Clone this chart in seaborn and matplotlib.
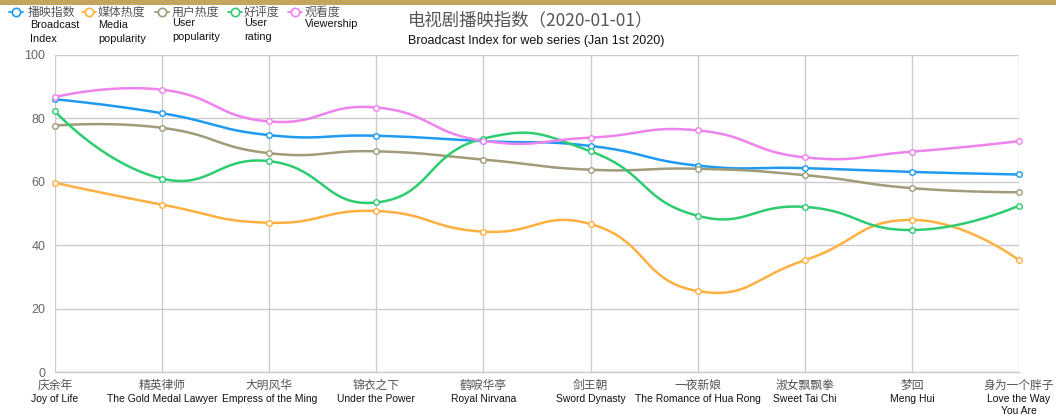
import numpy as np
import pandas as pd
import matplotlib
matplotlib.use("Agg")
import matplotlib.pyplot as plt
import seaborn as sns
from matplotlib.lines import Line2D
from matplotlib.patches import Rectangle

# ---------------- data ----------------
categories_cn = ["庆余年", "精英律师", "大明风华", "锦衣之下", "鹤唳华亭",
                 "剑王朝", "一夜新娘", "淑女飘飘拳", "梦回", "身为一个胖子"]
categories_en = ["Joy of Life", "The Gold Medal Lawyer", "Empress of the Ming",
                 "Under the Power", "Royal Nirvana", "Sword Dynasty",
                 "The Romance of Hua Rong", "Sweet Tai Chi", "Meng Hui",
                 "Love the Way\nYou Are"]

broadcast_index = [86.0, 81.6, 74.7, 74.5, 72.8, 71.3, 65.1, 64.3, 63.1, 62.3]
media_popularity = [59.7, 52.8, 47.1, 50.8, 44.3, 46.7, 25.6, 35.3, 48.0, 35.3]
user_popularity = [77.7, 77.0, 69.0, 69.6, 67.0, 63.8, 64.1, 62.1, 58.0, 56.7]
user_rating = [82.2, 61.0, 66.5, 53.5, 73.6, 69.6, 49.3, 52.1, 44.8, 52.5]
viewership = [86.7, 89.0, 79.0, 83.4, 72.9, 73.9, 76.2, 67.7, 69.5, 72.8]

series_cn = ["播映指数", "媒体热度", "用户热度", "好评度", "观看度"]
series_en = ["Broadcast\nIndex", "Media\npopularity", "User\npopularity", "User\nrating", "Viewership"]
y_ticks = [0, 20, 40, 60, 80, 100]

title_cn = "电视剧播映指数（2020-01-01）"
title_en = "Broadcast Index for web series (Jan 1st 2020)"

# ---------------- styling ----------------
colors = ["#1e9bf0", "#ffb040", "#a09b78", "#2ecc71", "#ee82ee"]
values = [broadcast_index, media_popularity, user_popularity, user_rating, viewership]

sns.set_theme(style="white")
plt.rcParams['font.family'] = ['Liberation Sans', 'Noto Sans CJK SC', 'DejaVu Sans']
CJK = ['Noto Sans CJK SC', 'DejaVu Sans']

W, H = 1056, 416
fig = plt.figure(figsize=(W / 100, H / 100), dpi=100)
left_px, right_px, top_px, bottom_px = 55, 1019, 54.8, 372.3
ax = fig.add_axes([left_px / W, 1 - bottom_px / H,
                   (right_px - left_px) / W, (bottom_px - top_px) / H])

n = len(categories_cn)
xs = np.arange(n)
ax.set_xlim(0, n - 1)
ax.set_ylim(0, 100)

# pixels per data unit, used for echarts-like bezier smoothing
sx = (right_px - left_px) / (n - 1)
sy = (bottom_px - top_px) / 100.0


def smooth_curve(x, y, smooth=0.5, steps=40):
    P = np.column_stack([np.asarray(x, float) * sx, np.asarray(y, float) * sy])
    m = len(P)
    cp0 = P.copy()
    cp1 = P.copy()
    for i in range(1, m - 1):
        prev, nxt = P[i - 1], P[i + 1]
        v = (nxt - prev) * smooth
        d0 = np.linalg.norm(P[i] - prev)
        d1 = np.linalg.norm(P[i] - nxt)
        s = d0 + d1
        if s > 0:
            d0 /= s
            d1 /= s
        cp0[i] = P[i] - v * d0
        cp1[i] = P[i] + v * d1
    t = np.linspace(0, 1, steps)[:, None]
    out = []
    for i in range(m - 1):
        a, b, c, d = P[i], cp1[i], cp0[i + 1], P[i + 1]
        seg = ((1 - t) ** 3) * a + 3 * ((1 - t) ** 2) * t * b + 3 * (1 - t) * t ** 2 * c + t ** 3 * d
        out.append(seg if i == 0 else seg[1:])
    out = np.vstack(out)
    return out[:, 0] / sx, out[:, 1] / sy


# grid
ax.set_yticks(y_ticks)
ax.set_xticks(xs)
ax.grid(True, color="#cccccc", linewidth=1.0)
ax.set_axisbelow(True)
for s in ["top", "right", "left"]:
    ax.spines[s].set_visible(False)
ax.spines["bottom"].set_color("#cccccc")
ax.spines["bottom"].set_linewidth(1.0)

for vals, col in zip(values, colors):
    cx, cy = smooth_curve(xs, vals)
    sns.lineplot(x=cx, y=cy, ax=ax, color=col, linewidth=1.8, sort=False,
                 estimator=None, zorder=3)
    df = pd.DataFrame({"x": xs, "y": vals})
    sns.scatterplot(data=df, x="x", y="y", ax=ax, s=16, facecolor="white",
                    edgecolor=col, linewidth=1.0, zorder=4, clip_on=False)

ax.set_xlabel("")
ax.set_ylabel("")
ax.tick_params(axis="y", length=0, pad=7, labelsize=9, labelcolor="#666666")
ax.set_yticklabels([str(v) for v in y_ticks])
ax.tick_params(axis="x", length=0, labelbottom=False)

# x category labels: Chinese line + English line(s)
for i, (cn, en) in enumerate(zip(categories_cn, categories_en)):
    xf = (left_px + i * sx) / W
    fig.text(xf, 1 - 385 / H, cn, ha="center", va="center", fontsize=8.5,
             color="#555555", family=CJK)
    for k, line in enumerate(en.split("\n")):
        fig.text(xf, 1 - (398.5 + 12 * k) / H, line, ha="center", va="center",
                 fontsize=7.5, color="#111111")

# gold top band
fig.add_artist(Rectangle((0, 1 - 5 / H), 1, 5 / H, transform=fig.transFigure,
                         facecolor="#c4a45f", edgecolor="none"))

# title
fig.text(408 / W, 1 - 20 / H, title_cn, ha="left", va="center", fontsize=12.5,
         color="#555555", family=CJK)
fig.text(408 / W, 1 - 41 / H, title_en, ha="left", va="center", fontsize=9,
         color="#111111")

# legend
icon_x = [9, 82, 155, 228, 288]
text_x = [28, 98, 172, 244, 305]
en_x = [30, 98, 172, 244, 305]
en_y = [25, 25, 23, 23, 24]
for ix, tx, ex, ey, col, cn, en in zip(icon_x, text_x, en_x, en_y, colors, series_cn, series_en):
    y = 1 - 12 / H
    fig.add_artist(Line2D([ix / W, (ix + 14) / W], [y, y], transform=fig.transFigure,
                          color=col, linewidth=1.3))
    fig.add_artist(Line2D([(ix + 7) / W], [y], transform=fig.transFigure,
                          marker="o", markersize=6, markerfacecolor="white",
                          markeredgecolor=col, markeredgewidth=1.2, linestyle="none"))
    fig.text(tx / W, y, cn, ha="left", va="center", fontsize=8.6, color="#555555",
             family=CJK)
    for k, line in enumerate(en.split("\n")):
        fig.text(ex / W, 1 - (ey + 14 * k) / H, line, ha="left", va="center",
                 fontsize=7.8, color="#111111")

fig.savefig("out.png", dpi=100, facecolor="white")
